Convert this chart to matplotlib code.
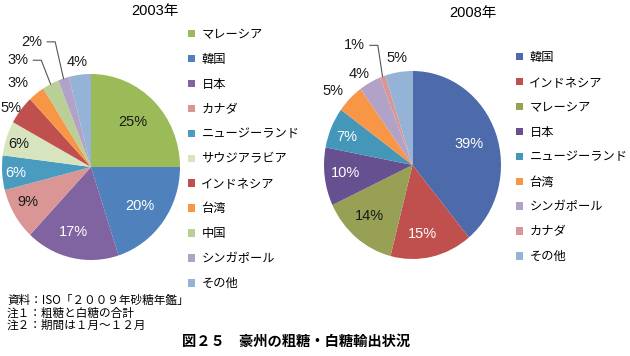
import matplotlib
matplotlib.use('Agg')
import matplotlib.pyplot as plt
import numpy as np

plt.rcParams['font.family'] = ['Noto Sans CJK JP', 'DejaVu Sans']

# ---------------- data ----------------
cats_2003 = ['マレーシア', '韓国', '日本', 'カナダ', 'ニュージーランド', 'サウジアラビア',
             'インドネシア', '台湾', '中国', 'シンガポール', 'その他']
vals_2003 = [25, 20, 17, 9, 6, 6, 5, 3, 3, 2, 4]

cats_2008 = ['韓国', 'インドネシア', 'マレーシア', '日本', 'ニュージーランド', '台湾',
             'シンガポール', 'カナダ', 'その他']
vals_2008 = [39, 15, 14, 10, 7, 5, 4, 1, 5]

title_2003 = '2003年'
title_2008 = '2008年'
notes = ['資料：ISO「２００９年砂糖年鑑」', '注１：粗糖と白糖の合計', '注２：期間は１月～１２月']
caption = '図２５　豪州の粗糖・白糖輸出状況'

# ---------------- styles ----------------
colors_2003 = {'マレーシア': '#9BBB59', '韓国': '#4F81BD', '日本': '#8064A2', 'カナダ': '#D99694',
               'ニュージーランド': '#4A9BC0', 'サウジアラビア': '#D7E4BD', 'インドネシア': '#C0504D',
               '台湾': '#F79646', '中国': '#B9CF96', 'シンガポール': '#B3A2C7', 'その他': '#95B3D7'}
colors_2008 = {'韓国': '#4D6AAA', 'インドネシア': '#C0504D', 'マレーシア': '#97A055', '日本': '#67508F',
               'ニュージーランド': '#4497B8', '台湾': '#F79646', 'シンガポール': '#B3A2C7',
               'カナダ': '#D99694', 'その他': '#95B3D7'}

# label radius / angle tweak / text colour per slice
lab_r_2003 = [0.67, 0.69, 0.73, 0.80, 0.85, 0.85, 1.10, 1.22, 1.41, 1.50, 1.14]
lab_da_2003 = [1, -1.4, -3.3, -2.4, 0.5, 0.8, 2.8, 4.5, 8.5, 8.2, 0.4]
lab_c_2003 = ['#1a1a1a', 'white', 'white', '#1a1a1a', 'white', '#1a1a1a', '#1a1a1a',
              '#1a1a1a', '#1a1a1a', '#1a1a1a', '#1a1a1a']
leader_2003 = [8, 9]

lab_r_2008 = [0.68, 0.74, 0.73, 0.765, 0.80, 1.20, 1.14, 1.43, 1.15]
lab_da_2008 = [-0.8, -4, -2.6, -0.8, 1.3, 3.7, 2.9, 7.3, -0.3]
lab_c_2008 = ['white', 'white', '#1a1a1a', 'white', 'white', '#1a1a1a', '#1a1a1a',
              '#1a1a1a', '#1a1a1a']
leader_2008 = [7]

W, H = 630, 356
fig = plt.figure(figsize=(W / 100, H / 100), dpi=100)
fig.patch.set_facecolor('white')

pct_font = ['Liberation Sans Narrow', 'Liberation Sans', 'DejaVu Sans']


def px_axes(x0, y0, x1, y1):
    return fig.add_axes([x0 / W, 1 - y1 / H, (x1 - x0) / W, (y1 - y0) / H])


def draw_pie(ax, cats, vals, colors, lab_r, lab_da, lab_c, leaders):
    wedges, _ = ax.pie(vals, colors=[colors[c] for c in cats], startangle=90,
                       counterclock=False, radius=1.0,
                       wedgeprops=dict(linewidth=0))
    ax.set_aspect('auto')
    ax.set_xlim(-1, 1)
    ax.set_ylim(-1, 1)
    ax.axis('off')
    total = float(sum(vals))
    for i, (w, v) in enumerate(zip(wedges, vals)):
        mid = 0.5 * (w.theta1 + w.theta2)
        ang = np.deg2rad(mid + lab_da[i])
        lx, ly = lab_r[i] * np.cos(ang), lab_r[i] * np.sin(ang)
        ax.text(lx, ly, f'{v / total * 100:.0f}%', ha='center', va='center',
                fontsize=10.5, color=lab_c[i], family=pct_font)
        if i in leaders:
            ex, ey = np.cos(np.deg2rad(mid)), np.sin(np.deg2rad(mid))
            ax.plot([lx + 0.17, lx + 0.26, ex], [ly, ly, ey], color='#555555',
                    lw=0.8, clip_on=False)
    return wedges


ax1 = px_axes(2, 74, 180, 260)
w1 = draw_pie(ax1, cats_2003, vals_2003, colors_2003, lab_r_2003, lab_da_2003,
              lab_c_2003, leader_2003)
ax2 = px_axes(324, 71, 501, 259)
w2 = draw_pie(ax2, cats_2008, vals_2008, colors_2008, lab_r_2008, lab_da_2008,
              lab_c_2008, leader_2008)

leg_kw = dict(frameon=False, fontsize=8.8, handlelength=0.55, handleheight=0.55,
              handletextpad=0.55, borderpad=0, borderaxespad=0, labelspacing=0.975,
              loc='upper left')
fig.legend(w1, cats_2003, bbox_to_anchor=(188 / W, 1 - 28 / H), **leg_kw)
fig.legend(w2, cats_2008, bbox_to_anchor=(516 / W, 1 - 51 / H), **leg_kw)

title_font = ['Liberation Sans Narrow', 'Liberation Sans', 'Noto Sans CJK JP']
fig.text(155 / W, 1 - 11 / H, title_2003, ha='center', va='center', fontsize=10.5,
         family=title_font)
fig.text(473 / W, 1 - 13 / H, title_2008, ha='center', va='center', fontsize=10.5,
         family=title_font)

fig.text(7 / W, 1 - 313 / H, '\n'.join(notes), ha='left', va='center', fontsize=8.4,
         linespacing=0.95)

fig.text(296 / W, 1 - 342 / H, caption, ha='center', va='center', fontsize=10.3,
         fontweight='bold')

fig.savefig('out.png', dpi=100, facecolor='white')
